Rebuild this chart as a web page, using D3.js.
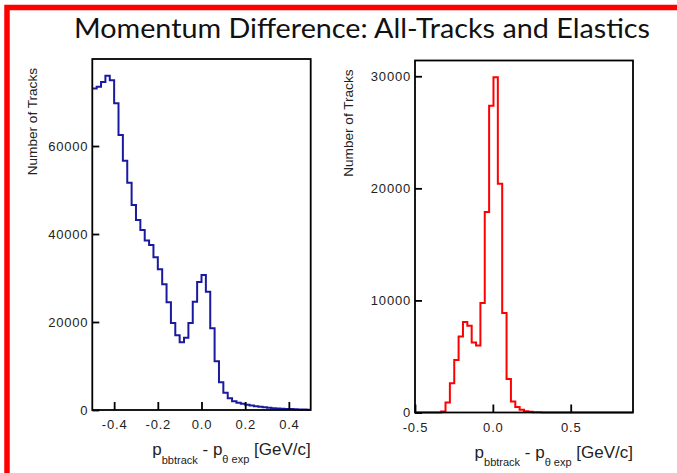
<!DOCTYPE html>
<meta charset="utf-8">
<head>
	<title>Momentum Difference</title>
</head>

<style>
	body { margin: 0; background: #fff; }
	svg { display: block; }
	.tick text { font-family: "Liberation Sans", Arial, sans-serif; font-size: 13px; letter-spacing: 0.8px; fill: #222; }
	.tick line { stroke: #000; stroke-width: 1.8px; }
	.ytitle { font-family: "Liberation Sans", Arial, sans-serif; font-size: 13.6px; fill: #222; }
	.xtitle { font-family: "Liberation Sans", Arial, sans-serif; font-size: 17px; fill: #222; }
</style>

<body>

	<div id="wrapper"></div>

	<script src='https://cdn.jsdelivr.net/npm/d3@7'></script>
	<script>

	// all-tracks histogram: 50 bins of 0.02 from -0.5
	var allTracksStart = -0.5;
	var allTracksBinWidth = 0.02;
	var allTracksCounts = [73100, 73500, 74550, 75980, 74930, 69700, 62500, 56660, 51660, 46590,
		43180, 40910, 38500, 37500, 34700, 32000, 28600, 24500, 19800, 17000,
		15400, 16400, 19800, 24600, 29100, 30700, 26900, 18600, 11100, 6300,
		3900, 2650, 2000, 1650, 1400, 1200, 1000, 850, 720, 600,
		500, 420, 350, 290, 240, 200, 160, 130, 100, 80];

	// elastics histogram: 50 bins of 0.028 from -0.5
	var elasticStart = -0.5;
	var elasticBinWidth = 0.028;
	var elasticCounts = [0, 0, 0, 0, 0, 0, 90, 890, 2620, 4680,
		6790, 8070, 7740, 6250, 5980, 9770, 17890, 27360, 29910, 20420,
		8870, 2980, 980, 480, 240, 120, 60, 30, 15, 0,
		0, 0, 0, 0, 0, 0, 0, 0, 0, 0,
		0, 0, 0, 0, 0, 0, 0, 0, 0, 0];

	var leftXTicks = [-0.4, -0.2, 0.0, 0.2, 0.4];
	var leftYTicks = [0, 20000, 40000, 60000];
	var rightXTicks = [-0.5, 0.0, 0.5];
	var rightYTicks = [0, 10000, 20000, 30000];

	var chartTitle = "Momentum Difference: All-Tracks and Elastics";
	var yTitle = "Number of Tracks";

	var width = 677, height = 473;

	var svg = d3.select("#wrapper").append("svg")
		.attr("width", width)
		.attr("height", height);

	// red canvas border (only top and left show)
	svg.append("rect")
		.attr("x", 7).attr("y", 7.5)
		.attr("width", 700).attr("height", 500)
		.attr("fill", "none")
		.attr("stroke", "#ff0000")
		.attr("stroke-width", 5.5);

	svg.append("text")
		.attr("x", 74)
		.attr("y", 37.5)
		.attr("textLength", 576)
		.attr("lengthAdjust", "spacingAndGlyphs")
		.style("font-family", "Lato, 'Noto Sans', sans-serif")
		.style("font-size", "27px")
		.style("fill", "#111")
		.text(chartTitle);

	function drawPanel(p) {
		var x = d3.scaleLinear().domain(p.xDomain).range([p.left, p.right]);
		var ymax = d3.max(p.counts) * 1.05;
		var y = d3.scaleLinear().domain([0, ymax]).range([p.bottom, p.top]);

		var g = svg.append("g");

		// step outline of the histogram
		var pts = [];
		if (p.fromZero) pts.push([x(p.start), y(0)]);
		p.counts.forEach(function(c, i) {
			var x0 = p.start + i * p.binWidth;
			pts.push([x(x0), y(c)]);
			pts.push([x(x0 + p.binWidth), y(c)]);
		});

		g.append("path")
			.attr("d", d3.line()(pts))
			.attr("fill", "none")
			.attr("stroke", p.color)
			.attr("stroke-width", 2);

		var xAxis = g.append("g")
			.attr("transform", "translate(0," + p.bottom + ")")
			.call(d3.axisBottom(x).tickValues(p.xTicks).tickSize(-8).tickPadding(10)
				.tickFormat(function(d) { return d3.format(".1f")(d).replace("−", "-"); }));
		xAxis.select(".domain").remove();

		var yAxis = g.append("g")
			.attr("transform", "translate(" + p.left + ",0)")
			.call(d3.axisLeft(y).tickValues(p.yTicks).tickSize(-7).tickPadding(4)
				.tickFormat(d3.format("d")));
		yAxis.select(".domain").remove();

		g.append("rect")
			.attr("x", p.left).attr("y", p.top)
			.attr("width", p.right - p.left)
			.attr("height", p.bottom - p.top)
			.attr("fill", "none")
			.attr("stroke", "#000")
			.attr("stroke-width", 1.8);

		g.append("text")
			.attr("class", "ytitle")
			.attr("transform", "translate(" + p.yTitleX + "," + (p.top + 9) + ") rotate(-90)")
			.attr("text-anchor", "end")
			.text(yTitle);

		var xt = g.append("text")
			.attr("class", "xtitle")
			.attr("x", p.right)
			.attr("y", p.bottom + 45)
			.attr("text-anchor", "end");
		xt.append("tspan").text("p");
		xt.append("tspan").attr("dy", 8.5).style("font-size", "11px").text("bbtrack");
		xt.append("tspan").attr("dy", -8.5).text(" - p");
		xt.append("tspan").attr("dy", 8).style("font-size", "11px").text("θ exp");
		xt.append("tspan").attr("dy", -8).text(" [GeV/c]");
	}

	drawPanel({
		left: 92.3, right: 310.7, top: 59, bottom: 410,
		xDomain: [-0.5, 0.5],
		start: allTracksStart, binWidth: allTracksBinWidth, counts: allTracksCounts,
		xTicks: leftXTicks, yTicks: leftYTicks,
		color: "#1a1aa0", fromZero: false, yTitleX: 37
	});

	drawPanel({
		left: 415, right: 633, top: 60.5, bottom: 412.5,
		xDomain: [-0.5, 0.9],
		start: elasticStart, binWidth: elasticBinWidth, counts: elasticCounts,
		xTicks: rightXTicks, yTicks: rightYTicks,
		color: "#ff0000", fromZero: true, yTitleX: 353
	});

	</script>
</body>
</html>
